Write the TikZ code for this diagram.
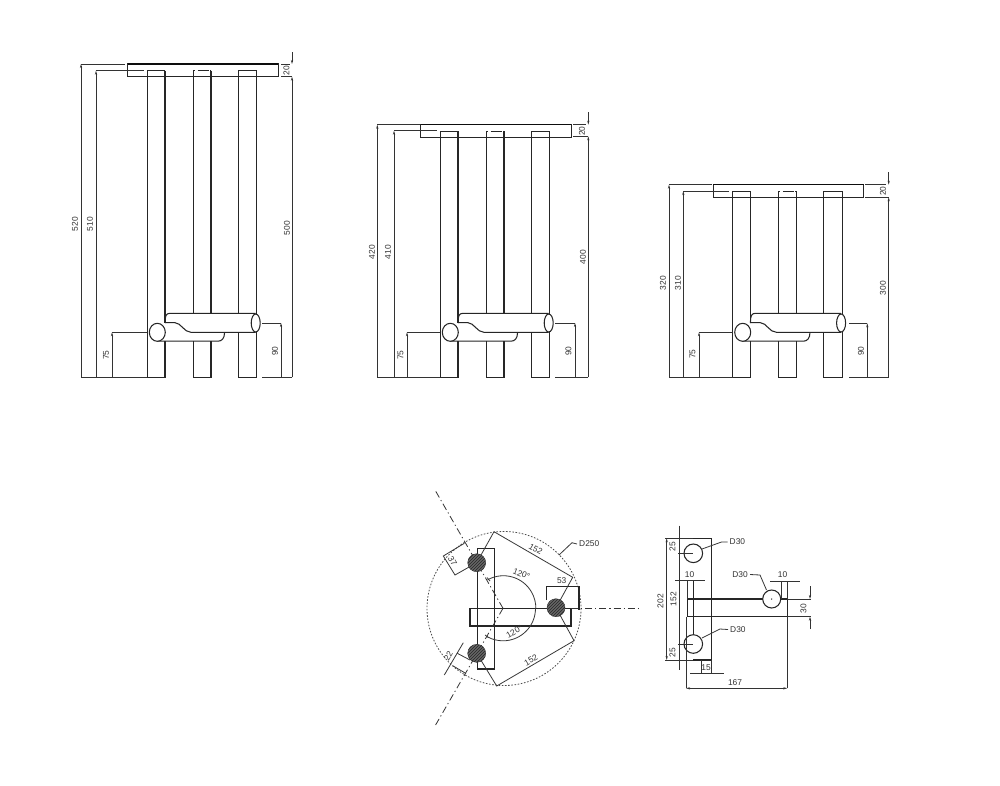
\documentclass[tikz,border=0pt]{standalone}
\usepackage{fontspec}
\setmainfont{Liberation Sans}
\usetikzlibrary{arrows.meta,patterns}
\tikzset{
  obj/.style={line width=1.05pt,black!85},
  thick obj/.style={line width=1.5pt,black!95},
  thin obj/.style={line width=0.8pt,black!78},
  dimline/.style={line width=0.75pt,black!80},
  dimarrow/.style={dimline,{Stealth[length=4pt,width=2.2pt]}-{Stealth[length=4pt,width=2.2pt]}},
  arrowend/.style={dimline,-{Stealth[length=4pt,width=2.2pt]}},
  lbl/.style={font=\fontsize{8.4}{9}\selectfont,text=black!80,inner sep=0pt},
  axisline/.style={line width=0.8pt,black!80,dash pattern=on 7pt off 3pt on 1.2pt off 3pt},
  circdash/.style={line width=0.8pt,black!70,dash pattern=on 1.6pt off 1.6pt},
  legsec/.style={line width=0.4pt,fill=black!60,draw=black!80},
  hatch/.style={pattern=north east lines,pattern color=black!85}
}
\newcommand{\StoolBody}[2]{%
 \begin{scope}[shift={(#1,0)}]
  \draw[obj] (278.3,#2) -- (278.3,#2+12.5) -- (127.7,#2+12.5) -- (127.7,#2) -- cycle;
  \draw[thick obj] (127.7,#2) -- (278.3,#2);
  \draw[obj] (147.3,#2+6.5) -- (165,#2+6.5);
  \draw[obj] (193.3,#2+6.5) -- (194.8,#2+6.5) (197.5,#2+6.5) -- (209,#2+6.5) (210,#2+6.5) -- (211,#2+6.5);
  \draw[obj] (238.3,#2+6.5) -- (256.7,#2+6.5);
  \draw[obj] (147.3,#2+6.5) -- (147.3,377.3) -- (165,377.3) -- (165,341);
  \draw[obj] (165,#2+6.5) -- (165,323);
  \draw[obj] (193.3,#2+6.5) -- (193.3,313.3) (211,#2+6.5) -- (211,313.3);
  \draw[obj] (193.3,341) -- (193.3,377.3) -- (211,377.3) -- (211,341);
  \draw[obj] (238.3,#2+6.5) -- (238.3,313.3) (238.3,332.3) -- (238.3,377.3) -- (256.7,377.3) -- (256.7,#2+6.5);
  \draw[obj] (165,323) .. controls (165,316) and (166,313.3) .. (170,313.3) -- (255.5,313.3);
  \draw[obj] (165,322.7) -- (175,322.7) .. controls (181,322.7) and (184,332.3) .. (191,332.3) -- (255.5,332.3);
  \draw[obj] (157.3,341.2) -- (218,341.2) .. controls (222,341.2) and (224.5,338) .. (224.5,333);
  \draw[obj,fill=white] (157.3,332.3) ellipse (8 and 9);
  \draw[obj,fill=white] (255.7,323) ellipse (4.5 and 9);
 \end{scope}}
\begin{document}
\begin{tikzpicture}[x=1pt,y=-1pt]
\useasboundingbox (0,0) rectangle (1000,785);
\fill[white] (0,0) rectangle (1000,785);

\StoolBody{0}{64}
\StoolBody{293}{124.7}
\StoolBody{585.4}{184.7}

% stool 1 dimensions
\draw[dimline] (125,64) -- (81,64) (143.5,70.7) -- (96,70.7) (147,332.3) -- (112,332.3);
\draw[arrowend] (81,377.3) -- (81,64);
\draw[arrowend] (96,377.3) -- (96,70.7);
\draw[arrowend] (112,377.3) -- (112,332.3);
\draw[dimline] (81,377.3) -- (147,377.3);
\draw[dimline] (262,377.3) -- (292,377.3) (262,323) -- (281,323) (281,64) -- (290,64) (281,76.7) -- (292,76.7);
\draw[arrowend] (281,377.3) -- (281,323);
\draw[arrowend] (292,377.3) -- (292,76.7);
\draw[arrowend] (292,52) -- (292,64);
\node[lbl,rotate=90] (a520) at (75,224) {520};
\node[lbl,rotate=90] (a510) at (90,224) {510};
\node[lbl,rotate=90] (a500) at (287,228) {500};
\node[lbl,rotate=90] (a75) at (106,355) {75};
\node[lbl,rotate=90] (a90) at (275,351) {90};
\node[lbl,rotate=90] (a20) at (286.5,70.5) {20};

% stool 2 dimensions
\draw[dimline] (420,124.7) -- (377.3,124.7) (436.5,130.7) -- (394,130.7) (440.3,332.3) -- (407,332.3);
\draw[arrowend] (377.3,377.3) -- (377.3,124.7);
\draw[arrowend] (394,377.3) -- (394,130.7);
\draw[arrowend] (407,377.3) -- (407,332.3);
\draw[dimline] (377.3,377.3) -- (440.3,377.3);
\draw[dimline] (555,377.3) -- (588.3,377.3) (555,323) -- (575,323) (573,124.7) -- (586,124.7) (573,136.3) -- (588.3,136.3);
\draw[arrowend] (575,377.3) -- (575,323);
\draw[arrowend] (588.3,377.3) -- (588.3,136.3);
\draw[arrowend] (588.3,112) -- (588.3,124.7);
\node[lbl,rotate=90] (b420) at (372,252) {420};
\node[lbl,rotate=90] (b410) at (388,252) {410};
\node[lbl,rotate=90] (b400) at (583,257) {400};
\node[lbl,rotate=90] (b75) at (400.5,355) {75};
\node[lbl,rotate=90] (b90) at (568.5,351) {90};
\node[lbl,rotate=90] (b20) at (582,131) {20};

% stool 3 dimensions
\draw[dimline] (712,184.7) -- (669,184.7) (729,191) -- (683.3,191) (732.7,332.3) -- (699,332.3);
\draw[arrowend] (669,377.3) -- (669,184.7);
\draw[arrowend] (683.3,377.3) -- (683.3,191);
\draw[arrowend] (699,377.3) -- (699,332.3);
\draw[dimline] (669,377.3) -- (732.7,377.3);
\draw[dimline] (849,377.3) -- (888.7,377.3) (849,323.3) -- (867.3,323.3) (865,184.7) -- (886,184.7) (865,197.3) -- (888.7,197.3);
\draw[arrowend] (867.3,377.3) -- (867.3,323.3);
\draw[arrowend] (888.7,377.3) -- (888.7,197.3);
\draw[arrowend] (888.7,172) -- (888.7,184.7);
\node[lbl,rotate=90] (c320) at (663,283) {320};
\node[lbl,rotate=90] (c310) at (678,283) {310};
\node[lbl,rotate=90] (c300) at (883,288) {300};
\node[lbl,rotate=90] (c75) at (692.5,354) {75};
\node[lbl,rotate=90] (c90) at (861,351) {90};
\node[lbl,rotate=90] (c20) at (883,191) {20};

% plan view
\draw[circdash] (504,608.5) circle (77);
\draw[obj] (477.3,548.3) rectangle (494.7,669);
\draw[obj] (470,608.3) rectangle (571,626);
\draw[axisline] (571,608.3) -- (640,608.3);
\draw[axisline] (503,608.3) -- (435,490);
\draw[axisline] (503,608.3) -- (435,726);
\draw[thin obj] (476.7,562.7) -- (494,531.7) -- (572.7,577.3) -- (556,607.7);
\draw[thin obj] (556,607.7) -- (574,640.7) -- (496.7,686) -- (476.7,653.3);
\draw[thin obj] (476.7,562.7) -- (455,575) -- (443.3,556) -- (464.3,543.3);
\draw[thin obj] (463.3,642.7) -- (444.3,675);
\draw[thin obj] (470,660) -- (457.3,653.3);
\draw[thin obj] (452.7,665.7) -- (466,673.5);
\draw[obj] (546.7,600) -- (546.7,586.7) -- (579,586.7) -- (579,610);
\draw[thin obj] (487.6,579.8) arc (-119:0:32.5);
\draw[thin obj] (535.5,608.3) arc (0:119:32.5);
\draw[thin obj] (487,577.5) -- (490,581);
\draw[thin obj] (485,635) -- (488.5,637.5);
\foreach \x/\y in {476.7/562.7,556/607.7,476.7/653.3}{
  \draw[legsec] (\x,\y) circle (9);
  \fill[hatch] (\x,\y) circle (9);
}
\node[lbl,rotate=-60] (p37) at (452.5,561.5) {37};
\node[lbl,rotate=60] (p22) at (448.3,656) {22};
\node[lbl] (p53) at (561.7,581) {53};
\node[lbl,rotate=-30] (p152a) at (535.7,549.3) {152};
\node[lbl,rotate=30] (p152b) at (531,660) {152};
\node[lbl,rotate=-22] (p120a) at (521.5,574) {120°};
\node[lbl,rotate=30] (p120b) at (514.5,631.5) {120°};
\node[lbl,anchor=west] (pD) at (579,544) {D250};
\coordinate (pDb) at (572,542.7);
\coordinate (pDc) at (559,555);
\draw[thin obj] (pD.west) ++(-2,0) -- (pDb) -- (pDc);

% side view
\draw[obj] (693.3,538.3) -- (711.7,538.3) -- (711.7,660) -- (693.3,660);
\draw[obj] (687.3,599) rectangle (787.3,616.7);
\draw[obj] (693.3,581) -- (693.3,635);
\draw[obj,fill=white] (693.3,553.3) circle (9.3);
\draw[obj,fill=white] (693.3,644) circle (9.3);
\draw[obj,fill=white] (771.7,599) circle (9);
\fill[black] (771.7,599) circle (0.7);
\draw[dimline] (665,538.3) -- (693.3,538.3) (665,660) -- (693.3,660);
\draw[dimline] (678,553.3) -- (693.3,553.3) (678,644) -- (693.3,644);
\draw[dimline] (687.3,581) -- (687.3,599);
\draw[dimline] (675,580.7) -- (705,580.7);
\draw[dimline] (679.5,525.5) -- (679.5,670);
\draw[dimarrow] (666.7,538.3) -- (666.7,660);
\draw[dimline] (701.7,660) -- (701.7,673.5) (711.7,660) -- (711.7,673.5);
\draw[dimline] (690,673.5) -- (723.5,673.5);
\draw[dimline] (686,616.7) -- (686,688.3);
\draw[dimarrow] (686,688.3) -- (787.3,688.3);
\draw[dimline] (787.3,616.7) -- (787.3,688.3);
\draw[dimline] (781,581) -- (781,599) (787.3,581) -- (787.3,599);
\draw[dimline] (770,581) -- (800,581);
\draw[dimline] (787.3,599) -- (811,599) (787.3,616.7) -- (811,616.7);
\draw[arrowend] (810,586) -- (810,599);
\draw[arrowend] (810,629) -- (810,616.7);
\node[lbl,rotate=90] (r25a) at (672.5,546.5) {25};
\node[lbl,rotate=90] (r25b) at (672.5,652.5) {25};
\node[lbl,rotate=90] (r152) at (673.5,599) {152};
\node[lbl,rotate=90] (r202) at (660.5,601) {202};
\node[lbl] (r10a) at (689.5,575) {10};
\node[lbl] (r10b) at (782.5,574.5) {10};
\node[lbl,rotate=90] (r30) at (803.5,608.5) {30};
\node[lbl] (r15) at (706,667.5) {15};
\node[lbl] (r167) at (735,682.5) {167};
\node[lbl,anchor=west] (rD1) at (729.5,542) {D30};
\node[lbl,anchor=east] (rD2) at (748,574.5) {D30};
\node[lbl,anchor=west] (rD3) at (730,629.5) {D30};
\coordinate (rD1b) at (721.5,542);
\coordinate (rD1c) at (702,549);
\coordinate (rD2b) at (760,575);
\coordinate (rD2c) at (766.5,590);
\coordinate (rD3b) at (720,629);
\coordinate (rD3c) at (702,638);
\draw[thin obj] (rD1.west) ++(-2,0) -- (rD1b) -- (rD1c);
\draw[thin obj] (rD2.east) ++(2,0) -- (rD2b) -- (rD2c);
\draw[thin obj] (rD3.west) ++(-2,0) -- (rD3b) -- (rD3c);
\end{tikzpicture}
\end{document}
